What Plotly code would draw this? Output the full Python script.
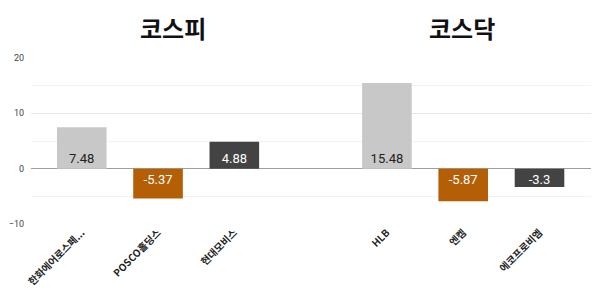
import plotly.graph_objects as go

names = ["한화에어로스페...", "POSCO홀딩스", "현대모비스", "HLB", "엔켐", "에코프로비엠"]
values = [7.48, -5.37, 4.88, 15.48, -5.87, -3.3]
positions = [0, 1, 2, 4, 5, 6]
colors = ["#c8c8c8", "#b45f06", "#434343", "#c8c8c8", "#b45f06", "#434343"]
text_colors = ["#222222", "#ffffff", "#ffffff", "#222222", "#ffffff", "#ffffff"]
group_titles = ["코스피", "코스닥"]
group_title_x = [1.2, 4.98]

fig = go.Figure()
fig.add_trace(go.Bar(
    x=positions, y=values,
    marker=dict(color=colors, line=dict(width=0)),
    width=0.65,
    text=[f"{v:g}" for v in values],
    textposition="inside",
    insidetextanchor="start",
    constraintext="none",
    textangle=0,
    textfont=dict(family="Roboto, Arial, sans-serif", size=13, color=text_colors),
    cliponaxis=False,
))

for t, xx in zip(group_titles, group_title_x):
    fig.add_annotation(x=xx, y=1.0, xref="x", yref="paper", yanchor="bottom", yshift=11,
                       text=f"<b>{t}</b>", showarrow=False,
                       font=dict(family="Noto Sans CJK KR", size=24, color="#111111"))

fig.update_layout(
    width=600, height=300,
    margin=dict(l=28, r=9, t=58, b=76),
    paper_bgcolor="white", plot_bgcolor="white",
    showlegend=False,
    xaxis=dict(range=[-0.665, 6.675], tickvals=positions, ticktext=[f"<b>{n}</b>" for n in names],
               tickangle=-45, showgrid=False, zeroline=False, showline=False,
               ticks="", tickfont=dict(family="Noto Sans CJK KR", size=10, color="#222222")),
    yaxis=dict(range=[-10, 20], dtick=10, showgrid=True, gridcolor="#e6e6e6", gridwidth=1,
               zeroline=True, zerolinecolor="#9e9e9e", zerolinewidth=1,
               tickfont=dict(family="Roboto, Arial, sans-serif", size=9, color="#444444"),
               minor=dict(dtick=5, showgrid=True, gridcolor="#f3f3f3", gridwidth=1),
               ticks="", ticklabelstandoff=6),
)

fig.write_html("out.html")
